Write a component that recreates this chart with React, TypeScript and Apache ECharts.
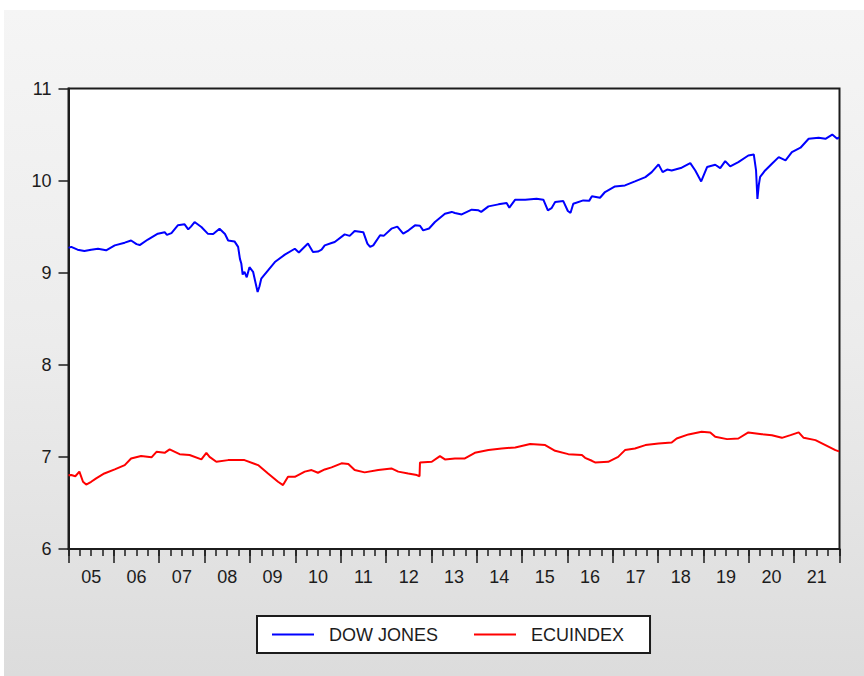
import React, { useEffect, useRef } from "react";
import * as echarts from "echarts";

// Year labels on the x axis (2005 … 2021)
const yearLabels = ["05", "06", "07", "08", "09", "10", "11", "12", "13", "14", "15", "16", "17", "18", "19", "20", "21"];

// DOW JONES (log level) – time in decimal years
const dowTime = [
  2005.0, 2005.06, 2005.2, 2005.35, 2005.5, 2005.65, 2005.83, 2006.02, 2006.24, 2006.38, 2006.5, 2006.57, 2006.75, 2006.97,
  2007.12, 2007.17, 2007.27, 2007.41, 2007.56, 2007.64, 2007.7, 2007.78, 2007.93, 2008.07, 2008.19, 2008.33, 2008.45, 2008.52,
  2008.66, 2008.74, 2008.78, 2008.81, 2008.84, 2008.88, 2008.93, 2008.99, 2009.07, 2009.12, 2009.17, 2009.21, 2009.25, 2009.4,
  2009.55, 2009.77, 2009.99, 2010.08, 2010.14, 2010.28, 2010.39, 2010.5, 2010.58, 2010.65, 2010.8, 2010.87, 2011.09, 2011.2,
  2011.31, 2011.5, 2011.59, 2011.65, 2011.72, 2011.87, 2011.95, 2012.12, 2012.25, 2012.38, 2012.5, 2012.64, 2012.75, 2012.82,
  2012.95, 2013.08, 2013.3, 2013.45, 2013.52, 2013.67, 2013.89, 2014.04, 2014.1, 2014.26, 2014.48, 2014.66, 2014.72, 2014.85,
  2015.07, 2015.32, 2015.47, 2015.57, 2015.65, 2015.73, 2015.91, 2016.01, 2016.07, 2016.13, 2016.35, 2016.48, 2016.54, 2016.72,
  2016.83, 2017.05, 2017.27, 2017.49, 2017.72, 2017.86, 2018.01, 2018.1, 2018.2, 2018.3, 2018.52, 2018.71, 2018.82, 2018.95,
  2019.08, 2019.26, 2019.37, 2019.48, 2019.59, 2019.77, 2019.99, 2020.11, 2020.16, 2020.19, 2020.22, 2020.25, 2020.36, 2020.51,
  2020.66, 2020.81, 2020.95, 2021.14, 2021.32, 2021.54, 2021.69, 2021.84, 2021.95, 2021.99,
];
const dowValues = [
  9.27, 9.28, 9.25, 9.235, 9.25, 9.26, 9.243, 9.297, 9.326, 9.35, 9.31, 9.3, 9.36, 9.424,
  9.44, 9.41, 9.43, 9.514, 9.525, 9.47, 9.5, 9.55, 9.496, 9.424, 9.42, 9.478, 9.42, 9.35,
  9.34, 9.28, 9.15, 9.1, 8.98, 9.01, 8.95, 9.06, 9.01, 8.9, 8.79, 8.85, 8.935, 9.026,
  9.116, 9.196, 9.26, 9.22, 9.25, 9.316, 9.225, 9.23, 9.25, 9.297, 9.322, 9.333, 9.416, 9.4,
  9.452, 9.44, 9.316, 9.28, 9.297, 9.406, 9.4, 9.478, 9.5, 9.424, 9.46, 9.514, 9.51, 9.46,
  9.48, 9.55, 9.64, 9.66, 9.648, 9.633, 9.684, 9.677, 9.66, 9.72, 9.742, 9.756, 9.706, 9.793,
  9.793, 9.804, 9.793, 9.677, 9.7, 9.767, 9.778, 9.67, 9.65, 9.749, 9.785, 9.78, 9.829, 9.814,
  9.876, 9.937, 9.948, 9.991, 10.038, 10.092, 10.176, 10.092, 10.12, 10.11, 10.14, 10.19, 10.11, 9.991,
  10.147, 10.172, 10.136, 10.212, 10.154, 10.2, 10.273, 10.284, 10.11, 9.8, 9.95, 10.04, 10.11, 10.183,
  10.255, 10.22, 10.31, 10.357, 10.454, 10.465, 10.454, 10.5, 10.454, 10.47,
];

// ECUINDEX (log level) – time in decimal years
const ecuTime = [
  2005.0, 2005.06, 2005.15, 2005.24, 2005.32, 2005.39, 2005.5, 2005.61, 2005.79, 2006.02, 2006.24, 2006.38, 2006.6, 2006.83,
  2006.94, 2007.12, 2007.23, 2007.45, 2007.67, 2007.93, 2008.04, 2008.11, 2008.26, 2008.52, 2008.88, 2009.18, 2009.4, 2009.62,
  2009.73, 2009.84, 2009.99, 2010.21, 2010.36, 2010.5, 2010.65, 2010.8, 2011.02, 2011.17, 2011.31, 2011.53, 2011.83, 2012.12,
  2012.27, 2012.49, 2012.68, 2012.74, 2012.75, 2013.01, 2013.19, 2013.3, 2013.52, 2013.74, 2013.96, 2014.26, 2014.55, 2014.85,
  2015.18, 2015.51, 2015.73, 2016.02, 2016.32, 2016.39, 2016.54, 2016.61, 2016.9, 2017.12, 2017.27, 2017.49, 2017.72, 2018.01,
  2018.3, 2018.41, 2018.67, 2018.96, 2019.15, 2019.26, 2019.52, 2019.77, 2019.99, 2020.29, 2020.51, 2020.73, 2020.92, 2021.1,
  2021.21, 2021.47, 2021.69, 2021.91, 2021.99,
];
const ecuValues = [
  6.8, 6.803, 6.79, 6.84, 6.73, 6.7, 6.73, 6.767, 6.82, 6.864, 6.911, 6.983, 7.009, 6.995,
  7.055, 7.044, 7.081, 7.03, 7.02, 6.973, 7.044, 7.0, 6.947, 6.965, 6.965, 6.911, 6.82, 6.73,
  6.694, 6.784, 6.784, 6.84, 6.857, 6.828, 6.864, 6.886, 6.93, 6.922, 6.857, 6.832, 6.857, 6.875,
  6.84, 6.82, 6.803, 6.79, 6.94, 6.947, 7.009, 6.973, 6.983, 6.983, 7.044, 7.074, 7.092, 7.103,
  7.139, 7.128, 7.066, 7.03, 7.02, 6.99, 6.958, 6.94, 6.947, 7.0, 7.074, 7.092, 7.128, 7.146,
  7.157, 7.2, 7.244, 7.272, 7.266, 7.218, 7.193, 7.2, 7.266, 7.247, 7.236, 7.207, 7.236, 7.266,
  7.207, 7.182, 7.128, 7.074, 7.06,
];

const FONT = "'Liberation Sans', Arial, sans-serif";
const INK = "#1c1c1c";

export default function App() {
  const ref = useRef<HTMLDivElement>(null);

  useEffect(() => {
    if (!ref.current) return;
    const chart = echarts.init(ref.current, undefined, { renderer: "svg" });
    chart.setOption({
      animation: false,
      textStyle: { fontFamily: FONT },
      grid: {
        left: 68.5,
        right: 24.5,
        top: 88.5,
        bottom: 127,
        show: true,
        backgroundColor: "#ffffff",
        borderColor: INK,
        borderWidth: 2,
      },
      legend: {
        left: 257,
        top: 616,
        orient: "horizontal",
        padding: [8, 26, 8, 15],
        itemGap: 36,
        itemWidth: 42,
        itemHeight: 2,
        backgroundColor: "#ffffff",
        borderColor: INK,
        borderWidth: 2,
        borderRadius: 0,
        selectedMode: false,
        textStyle: {
          fontSize: 18,
          color: INK,
          fontFamily: FONT,
          lineHeight: 21,
          padding: [0, 0, 0, 10],
        },
        data: [
          { name: "DOW JONES", icon: "rect", itemStyle: { color: "#0000ff" } },
          { name: "ECUINDEX", icon: "rect", itemStyle: { color: "#ff0000" } },
        ],
      },
      xAxis: [
        {
          type: "value",
          min: 2005,
          max: 2022,
          interval: 0.25,
          position: "bottom",
          axisLine: { show: true, onZero: false, lineStyle: { color: INK, width: 2 } },
          axisTick: { show: true, inside: false, length: 7, lineStyle: { color: INK, width: 1.5 } },
          axisLabel: { show: false },
          splitLine: { show: false },
        },
        {
          type: "category",
          data: yearLabels,
          boundaryGap: true,
          position: "bottom",
          axisLine: { show: false },
          axisTick: { show: true, interval: 0, length: 14, lineStyle: { color: INK, width: 1.5 } },
          axisLabel: { interval: 0, fontSize: 18, color: INK, margin: 19, fontFamily: FONT },
          splitLine: { show: false },
        },
      ],
      yAxis: {
        type: "value",
        min: 6,
        max: 11,
        interval: 1,
        axisLine: { show: true, lineStyle: { color: INK, width: 2 } },
        axisTick: { show: true, length: 10, lineStyle: { color: INK, width: 1.5 } },
        axisLabel: { fontSize: 18, color: INK, margin: 17, fontFamily: FONT },
        splitLine: { show: false },
      },
      series: [
        {
          name: "DOW JONES",
          type: "line",
          xAxisIndex: 0,
          symbol: "none",
          lineStyle: { color: "#0000ff", width: 2 },
          itemStyle: { color: "#0000ff" },
          data: dowTime.map((t, i) => [t, dowValues[i]]),
        },
        {
          name: "ECUINDEX",
          type: "line",
          xAxisIndex: 0,
          symbol: "none",
          lineStyle: { color: "#ff0000", width: 2 },
          itemStyle: { color: "#ff0000" },
          data: ecuTime.map((t, i) => [t, ecuValues[i]]),
        },
      ],
    });
    return () => chart.dispose();
  }, []);

  return (
    <div style={{ position: "absolute", left: 0, top: 0, width: 864, height: 676, background: "#ffffff", overflow: "hidden" }}>
      <div
        style={{
          position: "absolute",
          left: 4,
          top: 10,
          right: 0,
          bottom: 0,
          background: "linear-gradient(to bottom, #f5f5f5 0%, #ececec 50%, #dcdcdc 100%)",
        }}
      />
      <div ref={ref} style={{ position: "absolute", left: 0, top: 0, width: 864, height: 676 }} />
    </div>
  );
}
